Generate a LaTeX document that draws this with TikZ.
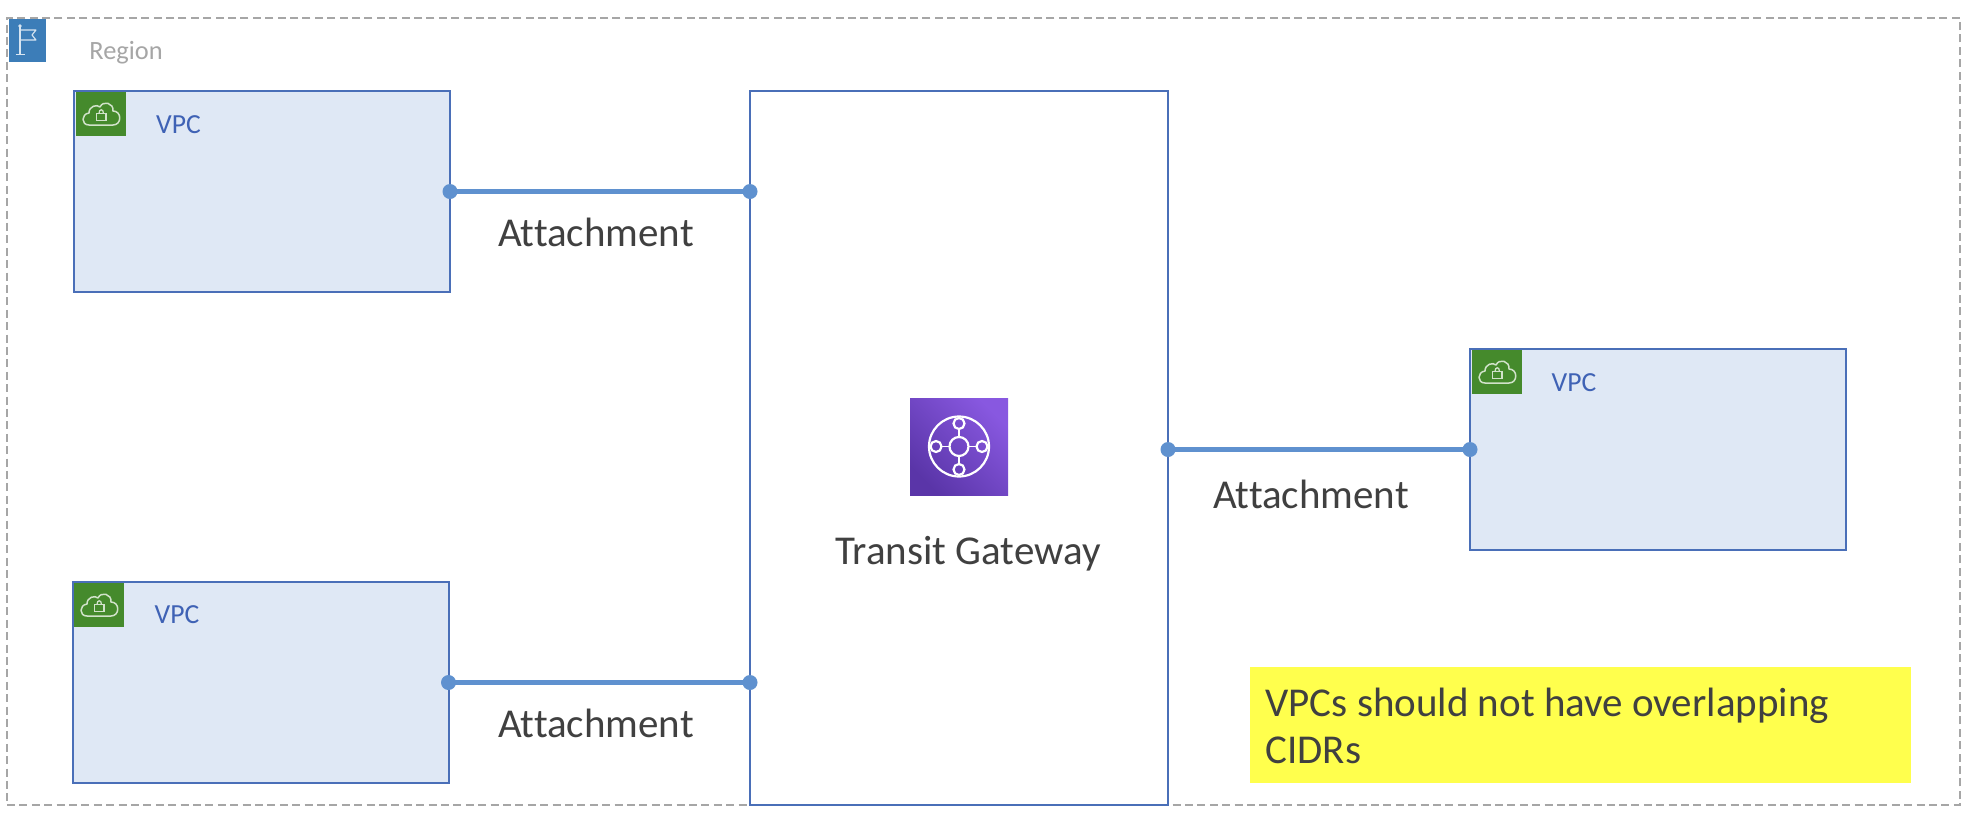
\documentclass[tikz,border=0pt]{standalone}
\usepackage{fontspec}
\setmainfont[Ligatures=NoCommon]{Carlito}
\definecolor{vpcline}{HTML}{4A6FB8}
\definecolor{vpcfill}{HTML}{DFE8F5}
\definecolor{vpctext}{HTML}{3F62B5}
\definecolor{conn}{HTML}{5F91CF}
\definecolor{awsgreen}{HTML}{458A2C}
\definecolor{flagblue}{HTML}{3C7DB8}
\definecolor{regiongrey}{HTML}{A6A6A6}
\definecolor{dark}{HTML}{404040}
\definecolor{notey}{HTML}{FFFF4D}
\definecolor{tgwlow}{HTML}{5A35A8}
\definecolor{tgwhigh}{HTML}{8858E0}
\tikzset{
  x=0.5pt,y=-0.5pt,
  vpcbox/.style={draw=vpcline,fill=vpcfill,line width=1pt,minimum width=188pt,minimum height=100.5pt,inner sep=0pt,outer sep=0pt},
  vpclabel/.style={text=vpctext,font=\fontsize{13.8}{15}\selectfont,inner sep=0pt},
  attach/.style={text=dark,font=\fontsize{20.5}{24}\selectfont,inner sep=0pt},
  link/.style={draw=conn,line width=2.4pt},
  dot/.style={circle,fill=conn,minimum size=7.5pt,inner sep=0pt,outer sep=0pt},
  cloudicon/.pic={
    \fill[awsgreen] (0,0) rectangle (50,44);
    \draw[draw=white!75!awsgreen,line width=0.75pt,line join=round]
      (13,33) .. controls (5,33) and (5,22) .. (13,21)
      .. controls (13,14) and (21,12) .. (24,15)
      .. controls (27,8) and (38,11) .. (37,19)
      .. controls (46,19) and (46,33) .. (37,33) -- cycle;
    \draw[draw=white!75!awsgreen,line width=0.65pt] (20.5,21.5) rectangle (30,28.5);
    \draw[draw=white!75!awsgreen,line width=0.65pt] (23,21.5) .. controls (23,16.5) and (27.5,16.5) .. (27.5,21.5);
  }
}
\begin{document}
\begin{tikzpicture}
\useasboundingbox (0,0) rectangle (1982,820);
\fill[white] (0,0) rectangle (1982,820);
% region
\node[draw=regiongrey,line width=0.75pt,dash pattern=on 4pt off 2.2pt,minimum width=976.5pt,minimum height=393.5pt,inner sep=0pt,outer sep=0pt] (region) at (983.5,411.5) {};
\node[fill=flagblue,minimum width=18.5pt,minimum height=21.5pt,inner sep=0pt,outer sep=0pt] (flag) at (27.5,40.5) {};
\draw[draw=white!80!flagblue,line width=0.55pt] (20,26) -- (20,54) (15.5,54.5) -- (24.5,54.5);
\fill[white!80!flagblue] (20,26) circle (1.8);
\draw[draw=white!80!flagblue,line width=0.55pt,line join=round] (20,30) -- (36,30) -- (32,35) -- (36,40) -- (20,40);
\node[text=regiongrey,font=\fontsize{13.2}{15}\selectfont,inner sep=0pt,anchor=base west] (regionlabel) at (89,59) {Region};
% VPCs
\node[vpcbox] (vpc1) at (262,191.5) {};
\node[vpcbox] (vpc2) at (260.5,682.5) {};
\node[vpcbox] (vpc3) at (1658,449.5) {};
\pic at (76,92) {cloudicon};
\pic at (74,583) {cloudicon};
\pic at (1472,350) {cloudicon};
\node[vpclabel] (v1) at (178.5,125) {VPC};
\node[vpclabel] (v2) at (177,615) {VPC};
\node[vpclabel] (v3) at (1574,383) {VPC};
% gateway
\node[draw=vpcline,fill=white,line width=1pt,minimum width=209pt,minimum height=357pt,inner sep=0pt,outer sep=0pt] (tgw) at (959,448) {};
\shade[shading=axis,left color=tgwlow,right color=tgwhigh,shading angle=135] (910,398) rectangle (1008,495);
\begin{scope}[shift={(959,446.5)}]
  \draw[white,line width=1.1pt] (0,0) circle (30);
  \draw[white,line width=1.1pt] (0,0) circle (9.5);
  \draw[white,line width=0.9pt] (0,-9.5) -- (0,-17) (0,9.5) -- (0,17) (-9.5,0) -- (-17,0) (9.5,0) -- (17,0);
  \draw[white,line width=1.1pt] (0,-23) circle (5.5) (0,23) circle (5.5) (-23,0) circle (5.5) (23,0) circle (5.5);
\end{scope}
\node[attach] (tgwlabel) at (968,554) {Transit Gateway};
% connectors
\draw[link] (vpc1.east) -- (vpc1.east -| tgw.west) coordinate (t1);
\draw[link] (vpc2.east) -- (vpc2.east -| tgw.west) coordinate (t2);
\draw[link] (tgw.east |- vpc3.west) coordinate (t3) -- (vpc3.west);
\node[dot] at (vpc1.east) {};
\node[dot] at (t1) {};
\node[dot] at (vpc2.east) {};
\node[dot] at (t2) {};
\node[dot] at (t3) {};
\node[dot] at (vpc3.west) {};
\node[attach] (a1) at (596,232) {Attachment};
\node[attach] (a2) at (596,723) {Attachment};
\node[attach] (a3) at (1311,494) {Attachment};
% note
\node[fill=notey,minimum width=330.5pt,minimum height=58pt,inner sep=0pt,outer sep=0pt] (note) at (1580.5,725) {};
\node[attach,anchor=base west] (n1) at (1265,716) {VPCs should not have overlapping};
\node[attach,anchor=base west] (n2) at (1265,763) {CIDRs};
\end{tikzpicture}
\end{document}
